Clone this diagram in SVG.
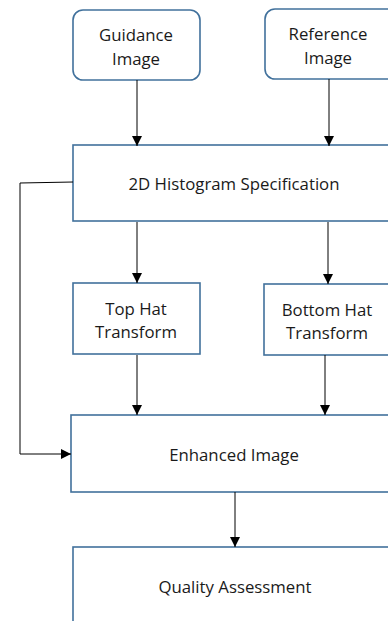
<svg xmlns="http://www.w3.org/2000/svg" width="388" height="621" viewBox="0 0 388 621">
<style>
.box{fill:#fff;stroke:#41719C;stroke-width:1.6}
.lbl{font-family:"Open Sans","Liberation Sans",sans-serif;font-size:16.8px;fill:#1a1a1a;text-anchor:middle}
.ln{fill:none;stroke:#000;stroke-width:1}
</style>
<defs>
<marker id="ah" viewBox="0 0 10 10" refX="10" refY="5" markerWidth="10" markerHeight="10" markerUnits="userSpaceOnUse" orient="auto">
<path d="M0,0 L10,5 L0,10 Z" fill="#000"/>
</marker>
</defs>
<rect width="388" height="621" fill="#fff"/>
<g id="guidance"><rect class="box" x="73" y="10" width="127" height="70" rx="10"/><text class="lbl" x="136" y="41">Guidance</text><text class="lbl" x="136" y="65">Image</text></g>
<g id="reference"><rect class="box" x="265" y="9" width="135" height="70" rx="10"/><text class="lbl" x="328" y="40">Reference</text><text class="lbl" x="328" y="64">Image</text></g>
<g id="histogram"><rect class="box" x="73" y="145" width="330" height="76"/><text class="lbl" x="234" y="190">2D Histogram Specification</text></g>
<g id="tophat"><rect class="box" x="73" y="283" width="127" height="71"/><text class="lbl" x="136" y="315">Top Hat</text><text class="lbl" x="136" y="338">Transform</text></g>
<g id="bottomhat"><rect class="box" x="264" y="284" width="135" height="71"/><text class="lbl" x="327" y="316">Bottom Hat</text><text class="lbl" x="327" y="339">Transform</text></g>
<g id="enhanced"><rect class="box" x="71" y="415" width="330" height="77"/><text class="lbl" x="234" y="461">Enhanced Image</text></g>
<g id="quality"><rect class="box" x="73" y="547" width="330" height="90"/><text class="lbl" x="235" y="593">Quality Assessment</text></g>
<g id="connectors">
<line class="ln" x1="137" y1="80" x2="137" y2="146" marker-end="url(#ah)"/>
<line class="ln" x1="329" y1="79" x2="329" y2="146" marker-end="url(#ah)"/>
<line class="ln" x1="137" y1="222" x2="137" y2="283" marker-end="url(#ah)"/>
<line class="ln" x1="328" y1="222" x2="328" y2="284" marker-end="url(#ah)"/>
<line class="ln" x1="137" y1="355" x2="137" y2="415" marker-end="url(#ah)"/>
<line class="ln" x1="325" y1="355" x2="325" y2="415" marker-end="url(#ah)"/>
<line class="ln" x1="235" y1="492" x2="235" y2="547" marker-end="url(#ah)"/>
<polyline class="ln" points="73,182 20,183 20,454 71,454" marker-end="url(#ah)"/>
</g>
</svg>
